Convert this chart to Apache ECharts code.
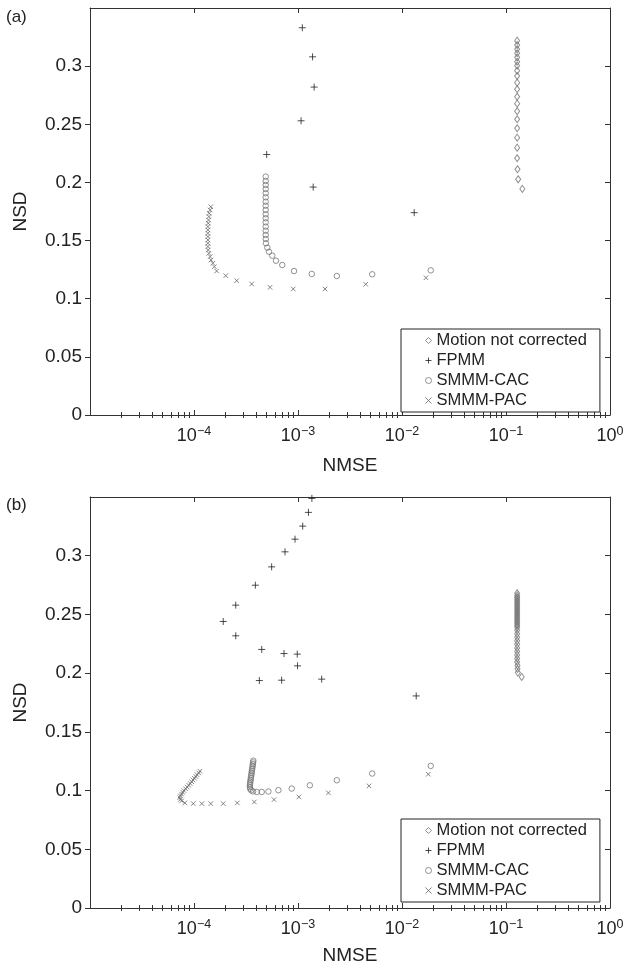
<!DOCTYPE html>
<html><head><meta charset="utf-8">
<script src="https://cdn.jsdelivr.net/npm/echarts@6/dist/echarts.min.js"></script>
<style>html,body{margin:0;padding:0;background:#fff}#c{width:629px;height:972px}</style>
</head><body><div id="c"></div>
<script>
// ---------- data (NMSE, NSD) ----------
const motionA = [[0.128,0.3219],[0.128,0.3182],[0.128,0.3145],[0.128,0.3111],[0.128,0.3076],[0.128,0.3038],[0.128,0.3004],[0.128,0.2961],[0.128,0.2915],[0.128,0.2858],[0.128,0.2801],[0.128,0.2737],[0.128,0.2677],[0.128,0.2612],[0.128,0.2543],[0.128,0.2466],[0.128,0.2385],[0.128,0.2299],[0.128,0.2208],[0.129,0.2113],[0.131,0.2027],[0.1436,0.1944]];
const fpmmA = [[1.10e-3,0.333],[1.38e-3,0.308],[1.43e-3,0.282],[1.07e-3,0.253],[5.0e-4,0.224],[1.40e-3,0.196],[1.31e-2,0.174]];
const cacA = [[4.89e-4,0.205],[4.89e-4,0.2012],[4.89e-4,0.1978],[4.89e-4,0.1944],[4.89e-4,0.1907],[4.89e-4,0.1872],[4.89e-4,0.1834],[4.89e-4,0.180],[4.89e-4,0.1763],[4.89e-4,0.1726],[4.89e-4,0.1692],[4.89e-4,0.1657],[4.89e-4,0.162],[4.89e-4,0.1585],[4.89e-4,0.1548],[4.9e-4,0.1514],[4.92e-4,0.1477],[5.07e-4,0.1439],[5.26e-4,0.1404],[5.66e-4,0.137],[6.14e-4,0.1327],[7.06e-4,0.129],[9.16e-4,0.1238],[1.355e-3,0.1213],[2.36e-3,0.1195],[5.17e-3,0.121],[1.89e-2,0.1244]];
const pacA = [[1.45e-4,0.1791],[1.43e-4,0.1763],[1.40e-4,0.1735],[1.39e-4,0.1706],[1.38e-4,0.1677],[1.37e-4,0.1649],[1.36e-4,0.162],[1.36e-4,0.1591],[1.36e-4,0.1563],[1.36e-4,0.1534],[1.36e-4,0.1505],[1.36e-4,0.1477],[1.36e-4,0.1448],[1.37e-4,0.1419],[1.39e-4,0.139],[1.43e-4,0.1362],[1.46e-4,0.1333],[1.52e-4,0.1305],[1.57e-4,0.1275],[1.65e-4,0.1238],[2.02e-4,0.1198],[2.57e-4,0.1155],[3.59e-4,0.1127],[5.38e-4,0.1098],[9.0e-4,0.1084],[1.82e-3,0.1084],[4.48e-3,0.1124],[1.70e-2,0.118]];

const motionB = [[0.128,0.268],[0.128,0.266],[0.128,0.2645],[0.128,0.263],[0.128,0.2615],[0.128,0.260],[0.128,0.2585],[0.128,0.257],[0.128,0.2555],[0.128,0.254],[0.128,0.2525],[0.128,0.251],[0.128,0.2495],[0.128,0.248],[0.128,0.2465],[0.128,0.245],[0.128,0.2435],[0.128,0.242],[0.128,0.2405],[0.128,0.239],[0.128,0.2365],[0.128,0.2335],[0.128,0.2305],[0.128,0.2275],[0.128,0.2245],[0.128,0.2215],[0.128,0.2185],[0.128,0.2155],[0.128,0.2125],[0.128,0.2095],[0.129,0.2065],[0.129,0.2035],[0.130,0.2005],[0.1416,0.1968]];
const fpmmB = [[1.36e-3,0.3488],[1.26e-3,0.3369],[1.11e-3,0.3252],[9.36e-4,0.3141],[7.5e-4,0.3033],[5.58e-4,0.2905],[3.89e-4,0.2749],[2.52e-4,0.2579],[1.91e-4,0.244],[2.52e-4,0.2318],[4.48e-4,0.2202],[7.33e-4,0.2167],[9.84e-4,0.2162],[9.9e-4,0.2062],[4.25e-4,0.1937],[6.96e-4,0.194],[1.69e-3,0.1949],[1.37e-2,0.1806]];
const cacB = [[3.72e-4,0.1255],[3.70e-4,0.1240],[3.68e-4,0.1225],[3.66e-4,0.1210],[3.64e-4,0.1195],[3.62e-4,0.1180],[3.60e-4,0.1165],[3.58e-4,0.1150],[3.56e-4,0.1135],[3.54e-4,0.1120],[3.52e-4,0.1105],[3.50e-4,0.1090],[3.48e-4,0.1075],[3.46e-4,0.1060],[3.45e-4,0.1045],[3.45e-4,0.1030],[3.47e-4,0.1015],[3.55e-4,0.1002],[3.7e-4,0.0993],[4.01e-4,0.0988],[4.48e-4,0.0988],[5.19e-4,0.0992],[6.48e-4,0.1003],[8.7e-4,0.1017],[1.30e-3,0.1045],[2.36e-3,0.1088],[5.17e-3,0.1145],[1.89e-2,0.121]];
const pacB = [[1.14e-4,0.1165],[1.11e-4,0.1150],[1.07e-4,0.1135],[1.04e-4,0.1120],[1.01e-4,0.1105],[9.8e-5,0.1090],[9.5e-5,0.1075],[9.2e-5,0.1060],[8.9e-5,0.1045],[8.6e-5,0.1030],[8.3e-5,0.1015],[8.0e-5,0.1000],[7.8e-5,0.0985],[7.6e-5,0.0970],[7.4e-5,0.0955],[7.3e-5,0.0940],[7.4e-5,0.0925],[7.6e-5,0.0912],[8.18e-5,0.0895],[9.84e-5,0.0889],[1.19e-4,0.0889],[1.45e-4,0.0889],[1.91e-4,0.0889],[2.61e-4,0.0895],[3.80e-4,0.0903],[5.88e-4,0.0923],[1.02e-3,0.0946],[1.96e-3,0.098],[4.82e-3,0.104],[1.79e-2,0.1139]];

// ---------- ticks ----------
const xMajorTicks = [1e-5, 1e-4, 1e-3, 1e-2, 1e-1, 1];
const xLabelExponents = [-4, -3, -2, -1, 0];
const xMinorTicks = [];
for (let e = -5; e < 0; e++) for (let k = 2; k <= 9; k++) xMinorTicks.push(Number((k * Math.pow(10, e)).toPrecision(3)));
const yMin = 0, yMax = 0.35, yInterval = 0.05;
const seriesNames = ['Motion not corrected', 'FPMM', 'SMMM-CAC', 'SMMM-PAC'];

const FONT = 'Liberation Sans';
const AX = '#333';
const TXT = '#222';

function xAxes(g, nameGap) {
  const common = { type: 'log', logBase: 10, min: 1e-5, max: 1, gridIndex: g, splitLine: { show: false } };
  return [
    Object.assign({}, common, {
      position: 'bottom',
      axisLine: { show: true, onZero: false, lineStyle: { color: AX, width: 1 } },
      axisTick: { show: true, inside: true, length: 5, customValues: xMajorTicks, lineStyle: { color: AX } },
      axisLabel: {
        show: true, margin: 10, customValues: xMajorTicks,
        formatter: v => {
          const e = Math.round(Math.log10(v));
          if (xLabelExponents.indexOf(e) < 0) return '';
          return '{b|10}{s|' + (e < 0 ? '\u2212' + (-e) : String(e)) + '}';
        },
        rich: {
          b: { fontSize: 18, fontFamily: FONT, color: TXT, lineHeight: 20, verticalAlign: 'bottom' },
          s: { fontSize: 12.5, fontFamily: FONT, color: TXT, lineHeight: 12, verticalAlign: 'top' }
        }
      },
      name: 'NMSE', nameLocation: 'middle', nameGap: nameGap,
      nameTextStyle: { fontSize: 19, fontFamily: FONT, color: TXT }
    }),
    Object.assign({}, common, {
      position: 'bottom',
      axisLine: { show: false },
      axisTick: { show: true, inside: true, length: 3, customValues: xMinorTicks, lineStyle: { color: AX } },
      axisLabel: { show: false }
    }),
    Object.assign({}, common, {
      position: 'top',
      axisLine: { show: true, onZero: false, lineStyle: { color: AX, width: 1 } },
      axisTick: { show: true, inside: true, length: 5, customValues: xMajorTicks, lineStyle: { color: AX } },
      axisLabel: { show: false }
    }),
    Object.assign({}, common, {
      position: 'top',
      axisLine: { show: false },
      axisTick: { show: true, inside: true, length: 3, customValues: xMinorTicks, lineStyle: { color: AX } },
      axisLabel: { show: false }
    })
  ];
}

function yAxes(g) {
  const common = { type: 'value', min: yMin, max: yMax, interval: yInterval, gridIndex: g, splitLine: { show: false } };
  return [
    Object.assign({}, common, {
      position: 'left',
      axisLine: { show: true, onZero: false, lineStyle: { color: AX, width: 1 } },
      axisTick: { show: true, inside: false, length: 5, lineStyle: { color: AX } },
      axisLabel: { show: true, margin: 8, fontSize: 19, fontFamily: FONT, color: TXT, showMaxLabel: false },
      name: 'NSD', nameLocation: 'middle', nameGap: 60,
      nameTextStyle: { fontSize: 19, fontFamily: FONT, color: TXT }
    }),
    Object.assign({}, common, {
      position: 'right',
      axisLine: { show: true, onZero: false, lineStyle: { color: AX, width: 1 } },
      axisTick: { show: true, inside: true, length: 5, lineStyle: { color: AX } },
      axisLabel: { show: false }
    })
  ];
}

const styles = [
  { symbol: 'diamond', symbolSize: [5, 7], itemStyle: { color: 'rgba(0,0,0,0)', borderColor: '#727272', borderWidth: 1 } },
  { symbol: 'path://M0,5L10,5M5,0L5,10', symbolSize: 7, itemStyle: { color: 'rgba(0,0,0,0)', borderColor: '#222', borderWidth: 1 } },
  { symbol: 'circle', symbolSize: 5.5, itemStyle: { color: 'rgba(0,0,0,0)', borderColor: '#777', borderWidth: 1 } },
  { symbol: 'path://M0,0L10,10M10,0L0,10', symbolSize: 4.5, itemStyle: { color: 'rgba(0,0,0,0)', borderColor: '#666', borderWidth: 1 } }
];

function series(xi, yi, sets) {
  return sets.map((d, i) => Object.assign({
    type: 'scatter', name: seriesNames[i], xAxisIndex: xi, yAxisIndex: yi, data: d,
    silent: true, emphasis: { disabled: true }, z: 2
  }, styles[i]));
}

function legend(top) {
  return {
    orient: 'vertical', left: 401, top: top, padding: [2, 13, 2, 24], itemGap: 1,
    itemWidth: 6, itemHeight: 6, borderColor: '#222', borderWidth: 1, backgroundColor: '#fff',
    selectedMode: false, data: seriesNames,
    itemStyle: { borderWidth: 1 },
    textStyle: { fontSize: 16.5, fontFamily: FONT, color: TXT, lineHeight: 19 }
  };
}

const chart = echarts.init(document.getElementById('c'), null, { renderer: 'canvas' });
chart.setOption({
  animation: false,
  backgroundColor: '#fff',
  title: [
    { text: '(a)', left: 6, top: 9, padding: 0, textStyle: { fontSize: 17, fontWeight: 'normal', fontFamily: FONT, color: TXT } },
    { text: '(b)', left: 6, top: 497, padding: 0, textStyle: { fontSize: 17, fontWeight: 'normal', fontFamily: FONT, color: TXT } }
  ],
  grid: [
    { left: 90, top: 8, width: 520, height: 407 },
    { left: 90, top: 497, width: 520, height: 411 }
  ],
  legend: [legend(329), legend(819)],
  xAxis: xAxes(0, 41).concat(xAxes(1, 38)),
  yAxis: yAxes(0).concat(yAxes(1)),
  series: series(0, 0, [motionA, fpmmA, cacA, pacA]).concat(series(4, 2, [motionB, fpmmB, cacB, pacB]))
});
</script>
</body></html>
